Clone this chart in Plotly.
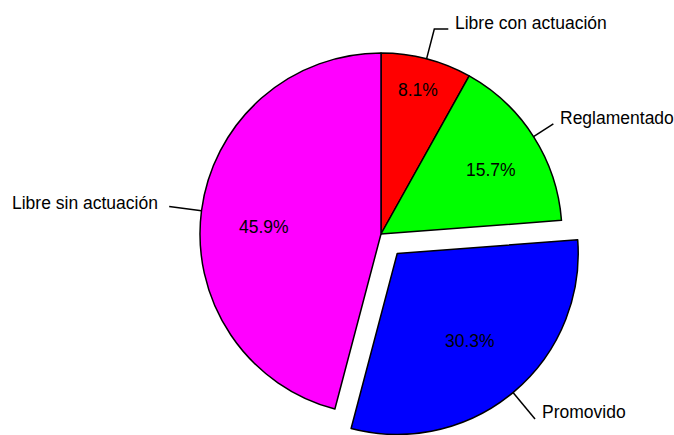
import math
import plotly.graph_objects as go

# ---- data ----
labels = ["Libre con actuación", "Reglamentado", "Promovido", "Libre sin actuación"]
values = [8.1, 15.7, 30.3, 45.9]
colors = ["#FF0000", "#00FF00", "#0000FF", "#FF00FF"]
pulled = [False, False, True, False]

# ---- layout / style ----
W, H = 674, 435
CX, CY = 381, 234          # pie centre (px from top-left of figure)
R = 181                    # radius px
PULL = 0.14
FONT = "Liberation Sans, Arial, sans-serif"
FS = 17.5
LEADER = [1.17, 1.13, 1.19, 1.18]
HSEG = [14, 0, 0, 0]
TEXT_GAP = [5, 5, 5, 9]
TEXT_DY = [-6, -6, -7, -4]
PCT_RADIUS = [0.82, 0.70, 0.63, 0.65]
PCT_ANGLE_SHIFT = [0, 2.5, 0, -4]
LINE_W = 1.5

total = sum(values)
pct_text = [f"{v / total * 100:.1f}%" for v in values]
mids = []
acc = 0
for v in values:
    mids.append((acc + v / 2) / total * 2 * math.pi)
    acc += v


def centre(i):
    if pulled[i]:
        d = PULL * R
        return CX + d * math.sin(mids[i]), CY - d * math.cos(mids[i])
    return CX, CY


def domain(cx, cy):
    clamp = lambda t: min(1.0, max(0.0, t))
    return dict(x=[clamp((cx - R) / W), clamp((cx + R) / W)],
                y=[clamp((H - cy - R) / H), clamp((H - cy + R) / H)])


fig = go.Figure()
transparent = "rgba(0,0,0,0)"

# base pie (non-pulled slices)
fig.add_trace(go.Pie(
    labels=labels, values=values, sort=False, direction="clockwise", rotation=0,
    marker=dict(colors=[transparent if p else c for c, p in zip(colors, pulled)],
                line=dict(color="black", width=[0 if p else LINE_W for p in pulled])),
    textinfo="none", domain=domain(CX, CY), showlegend=False,
    hoverinfo="label+percent",
))

# pulled slice drawn as a separate pie shifted outwards
pi = pulled.index(True)
pcx, pcy = centre(pi)
fig.add_trace(go.Pie(
    labels=labels, values=values, sort=False, direction="clockwise", rotation=0,
    marker=dict(colors=[c if p else transparent for c, p in zip(colors, pulled)],
                line=dict(color="black", width=[LINE_W if p else 0 for p in pulled])),
    textinfo="none", domain=domain(pcx, pcy), showlegend=False,
    hoverinfo="label+percent",
))

shapes = []
annotations = []
for i, lab in enumerate(labels):
    th = mids[i]
    cx, cy = centre(i)
    # percentage label inside the slice
    tp = th + math.radians(PCT_ANGLE_SHIFT[i])
    px = cx + R * PCT_RADIUS[i] * math.sin(tp)
    py = cy - R * PCT_RADIUS[i] * math.cos(tp)
    annotations.append(dict(
        x=px / W, y=1 - py / H, xref="paper", yref="paper", text=pct_text[i],
        showarrow=False, xanchor="center", yanchor="middle",
        font=dict(family=FONT, size=FS, color="black")))
    # leader line + category label
    sx, sy = math.sin(th), -math.cos(th)
    x1, y1 = cx + R * sx, cy + R * sy
    x2, y2 = cx + R * LEADER[i] * sx, cy + R * LEADER[i] * sy
    side = 1 if sx > 0 else -1
    x3 = x2 + side * HSEG[i]
    pts = [(x1, y1), (x2, y2)] + ([(x3, y2)] if HSEG[i] else [])
    path = "M " + " L ".join(f"{x / W:.5f},{1 - y / H:.5f}" for x, y in pts)
    shapes.append(dict(type="path", xref="paper", yref="paper", path=path,
                       line=dict(color="black", width=1.5)))
    annotations.append(dict(
        x=(x3 + side * TEXT_GAP[i]) / W, y=1 - (y2 + TEXT_DY[i]) / H,
        xref="paper", yref="paper",
        text=lab, showarrow=False, xanchor="left" if side > 0 else "right",
        yanchor="middle", font=dict(family=FONT, size=FS, color="black")))

fig.update_layout(
    width=W, height=H, margin=dict(l=0, r=0, t=0, b=0),
    paper_bgcolor="white", plot_bgcolor="white",
    shapes=shapes, annotations=annotations,
)

fig.write_html("out.html", config={"displayModeBar": False},
               post_script="document.body.style.margin='0px';document.body.style.overflow='hidden';")
